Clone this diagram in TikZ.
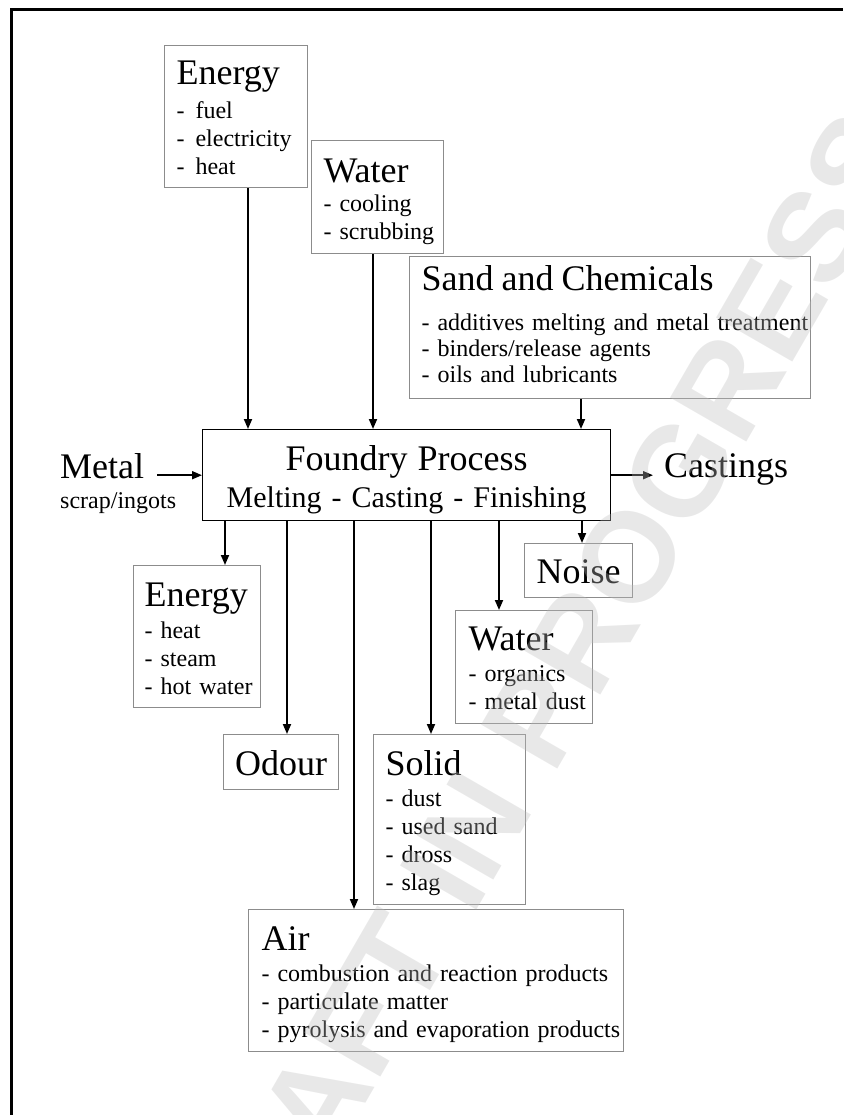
\documentclass[tikz,border=0pt]{standalone}
\usepackage{fontspec}
\setmainfont{Liberation Serif}
\newfontfamily\marksans{Liberation Sans}
\usepackage{xcolor}
\usepackage{tikz}
\usetikzlibrary{arrows.meta}

\newcommand\cattitle[1]{{\fontsize{36}{36}\selectfont #1}}

\begin{document}
\begin{tikzpicture}[x=1pt,y=-1pt,
    catbox/.style={draw=black!45,line width=1.2pt,inner sep=0pt,anchor=north west,
      align=left,font=\fontsize{24}{28}\selectfont},
    lpad/.style={execute at begin node={\leftskip=#1\rightskip=-3em plus 1fil\relax}},
    flow/.style={line width=1.8pt,-{Triangle[length=10pt,width=8pt]}}]
      \useasboundingbox (0,0) rectangle (843,1115);
      \draw[line width=3pt]
        (11.5,1115) -- (11.5,9.5) -- (843,9.5);

      \node[catbox,text width=143pt,text height=39pt,text depth=103pt,lpad=12pt]
        (entop) at (164,45)
        {\cattitle{Energy}\\[6pt]
         -\hspace{11pt}fuel\\
         -\hspace{11pt}electricity\\
         -\hspace{11pt}heat};
      \node[catbox,text width=132pt,text height=42pt,text depth=71pt,lpad=12pt]
        (wtop) at (311,140)
        {\cattitle{Water}\\[1pt]
         - cooling\\
         - scrubbing};
      \node[catbox,text width=401pt,text height=34pt,text depth=108pt,lpad=12pt,
        font=\fontsize{24}{26}\selectfont]
        (sand) at (409,256)
        {\cattitle{Sand and Chemicals}\\[14pt]
         - additives melting and metal treatment\\
         - binders/release agents\\
         - oils and lubricants};
      \node[catbox,draw=black,line width=1.4pt,text width=408pt,text height=41pt,
        text depth=50pt,align=center,font=\fontsize{30}{37}\selectfont]
        (fp) at (202,429)
        {\cattitle{Foundry Process}\\
         Melting - Casting - Finishing};

      \node[anchor=base west,inner sep=0pt,font=\fontsize{36}{36}\selectfont]
        (metal) at (60,478) {Metal};
      \node[anchor=base west,inner sep=0pt,font=\fontsize{24}{24}\selectfont]
        (scrap) at (60,508) {scrap/ingots};
      \node[anchor=base west,inner sep=0pt,font=\fontsize{36}{36}\selectfont]
        (castings) at (664,477) {Castings};

      \node[catbox,text width=127pt,text height=41pt,text depth=101pt,lpad=11pt]
        (enlow) at (133,565)
        {\cattitle{Energy}\\[4pt]
         - heat\\
         - steam\\
         - hot water};
      \node[catbox,text width=108pt,text height=40pt,text depth=14pt,align=center]
        (noise) at (524,543) {\cattitle{Noise}};
      \node[catbox,text width=137pt,text height=40pt,text depth=73pt,lpad=13pt]
        (wlow) at (455,610)
        {\cattitle{Water}\\[3pt]
         - organics\\
         - metal dust};
      \node[catbox,text width=115pt,text height=41pt,text depth=14pt,align=center]
        (odour) at (223,734) {\cattitle{Odour}};
      \node[catbox,text width=152pt,text height=41pt,text depth=129pt,lpad=12pt]
        (solid) at (373,734)
        {\cattitle{Solid}\\[3pt]
         - dust\\
         - used sand\\
         - dross\\
         - slag};
      \node[catbox,text width=375pt,text height=41pt,text depth=101pt,lpad=13pt]
        (air) at (248,909)
        {\cattitle{Air}\\[3pt]
         - combustion and reaction products\\
         - particulate matter\\
         - pyrolysis and evaporation products};

      \draw[flow] (entop.south -| 248,0) -- (fp.north -| 248,0);
      \draw[flow] (wtop.south -| 373,0) -- (fp.north -| 373,0);
      \draw[flow] (sand.south -| 581,0) -- (fp.north -| 581,0);
      \draw[flow] ([xshift=13pt]metal.east |- fp.west) -- (fp.west);
      \draw[flow] (fp.east) -- ([xshift=-11pt]castings.west |- fp.east);
      \draw[flow] (fp.south -| 225,0) -- (enlow.north -| 225,0);
      \draw[flow] (fp.south -| 287,0) -- (odour.north -| 287,0);
      \draw[flow] (fp.south -| 354,0) -- (air.north -| 354,0);
      \draw[flow] (fp.south -| 431,0) -- (solid.north -| 431,0);
      \draw[flow] (fp.south -| 499,0) -- (wlow.north -| 499,0);
      \draw[flow] (fp.south -| 582,0) -- (noise.north -| 582,0);

      \node[rotate=60,text=black!26,text opacity=0.34,
        font=\marksans\bfseries\fontsize{128}{128}\selectfont]
        (stamp) at (539,714) {DRAFT IN PROGRESS};
\end{tikzpicture}
\end{document}
